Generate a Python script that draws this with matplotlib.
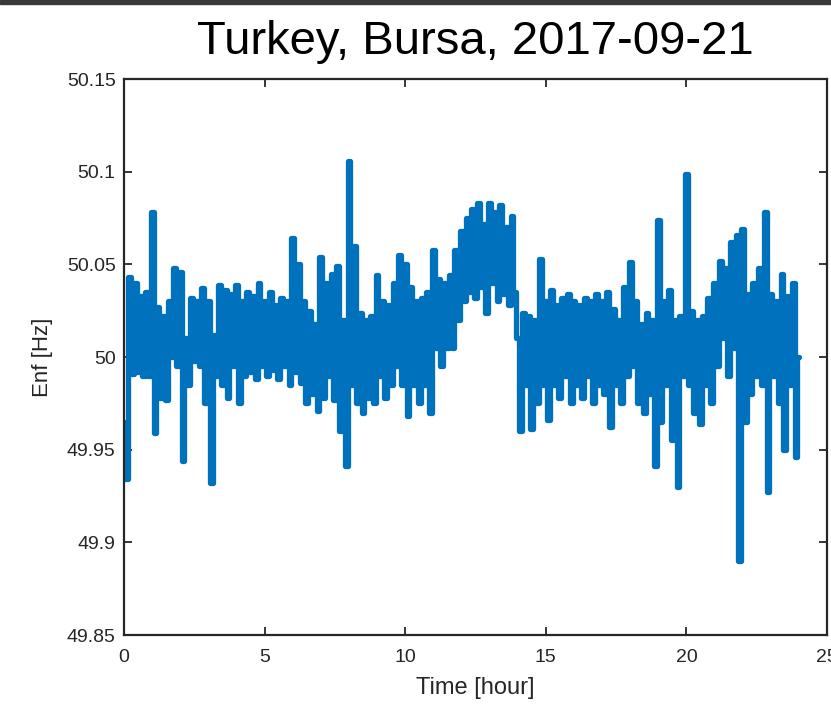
import numpy as np
import matplotlib
matplotlib.use("Agg")
import matplotlib.pyplot as plt

# peaks at t = 0, 0.2, ..., 24.0 [hour]
hi_vals = [49.965, 50.043, 50.040, 50.033, 50.035, 50.078, 50.027, 50.022, 50.030, 50.048,
           50.046, 50.010, 50.032, 50.030, 50.037, 50.030, 50.012, 50.039, 50.036, 50.034,
           50.039, 50.030, 50.035, 50.033, 50.040, 50.030, 50.035, 50.028, 50.032, 50.030,
           50.064, 50.050, 50.030, 50.025, 50.018, 50.054, 50.040, 50.045, 50.049, 50.020,
           50.106, 50.060, 50.024, 50.020, 50.022, 50.044, 50.030, 50.028, 50.040, 50.055,
           50.050, 50.038, 50.030, 50.032, 50.035, 50.058, 50.042, 50.040, 50.044, 50.058,
           50.068, 50.075, 50.080, 50.083, 50.072, 50.083, 50.078, 50.082, 50.070, 50.076,
           50.010, 50.024, 50.022, 50.020, 50.053, 50.030, 50.036, 50.028, 50.032, 50.034,
           50.030, 50.028, 50.032, 50.030, 50.034, 50.030, 50.035, 50.026, 50.020, 50.038,
           50.051, 50.030, 50.018, 50.024, 50.020, 50.074, 50.030, 50.036, 50.020, 50.022,
           50.099, 50.025, 50.020, 50.022, 50.032, 50.040, 50.052, 50.048, 50.062, 50.066,
           50.069, 50.034, 50.040, 50.048, 50.078, 50.034, 50.030, 50.045, 50.033, 50.040,
           50.000]

# troughs at t = 0.1, 0.3, ..., 23.9 [hour]
lo_vals = [49.934, 49.991, 49.992, 49.990, 49.990, 49.959, 49.978, 49.977, 50.000, 49.995,
           49.944, 49.985, 49.998, 49.995, 49.975, 49.932, 49.990, 49.985, 49.978, 49.995,
           49.975, 49.990, 49.992, 49.988, 49.995, 49.990, 49.993, 49.988, 49.995, 49.985,
           49.992, 49.986, 49.975, 49.980, 49.971, 49.978, 49.990, 49.977, 49.960, 49.941,
           49.985, 49.975, 49.970, 49.978, 49.975, 49.990, 49.978, 49.985, 49.995, 49.985,
           49.968, 49.985, 49.975, 49.985, 49.970, 50.005, 49.995, 50.005, 50.005, 50.020,
           50.030, 50.035, 50.032, 50.038, 50.024, 50.040, 50.030, 50.034, 50.028, 50.035,
           49.960, 49.985, 49.961, 49.975, 49.985, 49.966, 49.985, 49.978, 49.990, 49.975,
           49.985, 49.978, 49.990, 49.975, 49.985, 49.980, 49.962, 49.985, 49.975, 49.990,
           49.995, 49.975, 49.970, 49.980, 49.941, 49.965, 49.985, 49.955, 49.930, 49.990,
           49.985, 49.970, 49.964, 49.985, 49.975, 49.995, 50.010, 49.990, 50.005, 49.890,
           49.965, 49.980, 49.990, 49.985, 49.927, 49.990, 49.975, 49.950, 49.985, 49.946]

y_ticks = [49.85, 49.9, 49.95, 50, 50.05, 50.1, 50.15]
y_tick_labels = ['49.85', '49.9', '49.95', '50', '50.05', '50.1', '50.15']
x_ticks = [0, 5, 10, 15, 20, 25]

# merge peaks and troughs in time order
enf = np.empty(len(hi_vals) + len(lo_vals))
enf[0::2] = hi_vals
enf[1::2] = lo_vals
hours = np.linspace(0, 24, len(enf))

plt.rcParams['font.family'] = ['Liberation Sans', 'DejaVu Sans']
dark = '#262626'

fig = plt.figure(figsize=(8.31, 7.08), dpi=100)
ax = fig.add_axes([124 / 831, 73 / 708, 703 / 831, 556 / 708])

# dense signal: drawn as a comb of vertical strokes
ax.plot(hours, enf, color='#0072BD', lw=3.8, drawstyle='steps-mid',
        solid_capstyle='round', solid_joinstyle='round')

ax.set_xlim(0, 25)
ax.set_ylim(49.85, 50.15)
ax.set_xticks(x_ticks)
ax.set_yticks(y_ticks)
ax.set_yticklabels(y_tick_labels)
ax.tick_params(direction='in', length=6, width=1.3, top=True, right=True,
               colors=dark, labelsize=14)
ax.tick_params(axis='x', pad=10)
ax.tick_params(axis='y', pad=6)
for s in ax.spines.values():
    s.set_color(dark)
    s.set_linewidth(1.6)

ax.set_xlabel('Time [hour]', fontsize=17, color=dark, labelpad=8)
ax.set_ylabel('Enf [Hz]', fontsize=16, color=dark, labelpad=10)
ax.set_title('Turkey, Bursa, 2017-09-21', fontsize=34, color='black', pad=18)

# dark strip along the top edge of the capture
fig.patches.append(plt.Rectangle((0, 1 - 4 / 708), 1, 4 / 708, transform=fig.transFigure,
                                 color='#3a3a3a', zorder=10))

fig.savefig('out.png', dpi=100)
